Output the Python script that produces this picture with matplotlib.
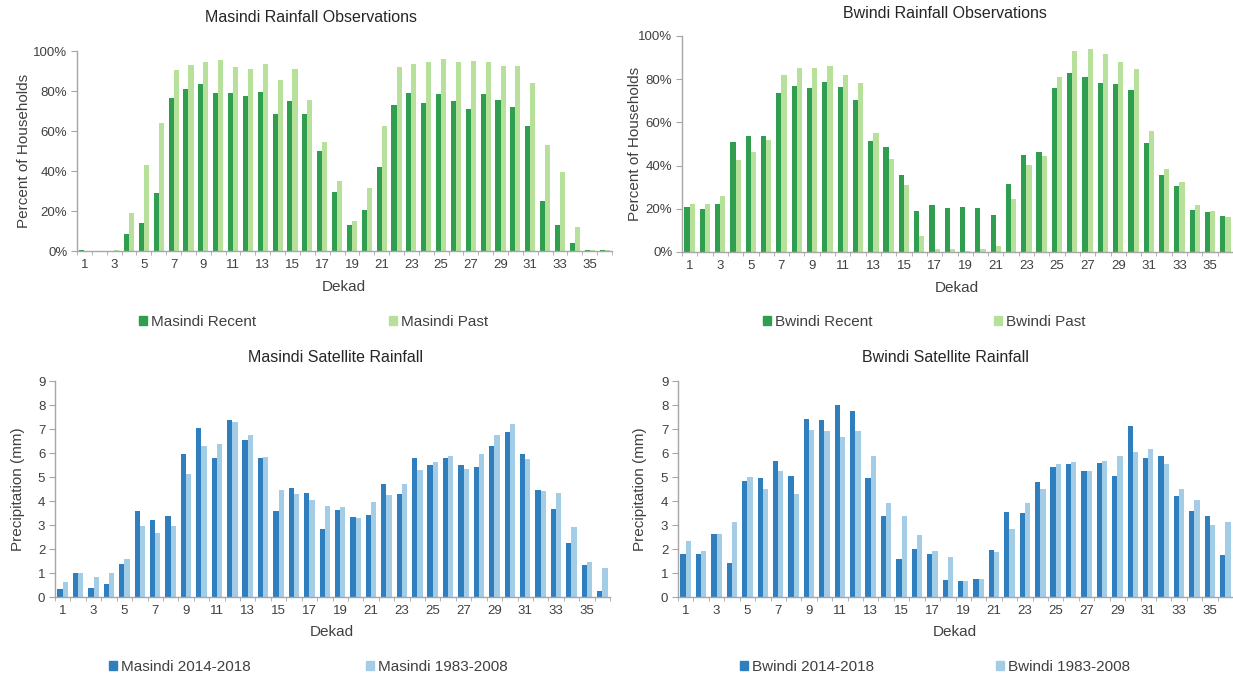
import numpy as np
import matplotlib.pyplot as plt
from matplotlib.patches import Patch
from matplotlib.ticker import FixedLocator

plt.rcParams['font.family'] = ['Liberation Sans', 'DejaVu Sans']

W, H = 1233, 679

dekads = np.arange(1, 37)
odd_ticks = np.arange(1, 37, 2)

# household observations, percent
masindi_recent = [0.4, 0, 0, 8.5, 14, 29.2, 76.6, 80.8, 83.3, 78.8, 78.8, 77.3,
                  79.5, 68.6, 74.8, 68.3, 49.9, 29.7, 13, 20.7, 41.9, 72.8, 78.8, 73.8,
                  78.3, 75.1, 71.1, 78.3, 75.6, 72.1, 62.6, 25.2, 13, 4, 0.3, 0.3]
masindi_past = [0, 0, 0.6, 19.2, 42.9, 63.9, 90.3, 93, 94.5, 95.3, 91.8, 91.2,
                93.5, 85.6, 91.2, 75.6, 54.4, 35.2, 14.9, 31.7, 62.4, 91.8, 93.3, 94.3,
                95.8, 94.3, 95, 94.3, 92.3, 92.3, 83.8, 52.9, 39.4, 11.9, 0.5, 0.5]
bwindi_recent = [20.9, 19.9, 22.1, 51, 53.6, 53.8, 73.4, 77, 76, 78.8, 76.2, 70.2,
                 51.2, 48.8, 35.7, 19, 21.8, 20.6, 21, 20.6, 17.3, 31.7, 44.7, 46.2,
                 75.7, 83, 80.8, 78.4, 77.6, 75, 50.4, 35.7, 30.4, 19.3, 18.4, 16.8]
bwindi_past = [22.1, 22.1, 26.1, 42.8, 46.2, 51.8, 81.9, 85, 85, 86.2, 81.9, 78.2,
               55.2, 43.1, 30.8, 7.4, 1.2, 1.2, 0.6, 1.2, 2.8, 24.4, 40.2, 44.5,
               81, 92.9, 94, 91.8, 88.1, 84.9, 56, 38.3, 32.5, 21.9, 19.1, 16.2]

# satellite rainfall, mm
masindi_2014 = [0.32, 0.99, 0.36, 0.53, 1.36, 3.58, 3.22, 3.38, 5.97, 7.06, 5.79, 7.36,
                6.54, 5.79, 3.58, 4.54, 4.32, 2.85, 3.61, 3.35, 3.42, 4.72, 4.28, 5.78,
                5.51, 5.81, 5.49, 5.42, 6.29, 6.89, 5.94, 4.44, 3.67, 2.24, 1.35, 0.24]
masindi_1983 = [0.61, 0.99, 0.85, 1.01, 1.57, 2.96, 2.68, 2.97, 5.13, 6.28, 6.36, 7.31,
                6.76, 5.85, 4.47, 4.29, 4.04, 3.78, 3.76, 3.28, 3.94, 4.26, 4.69, 5.28,
                5.61, 5.86, 5.35, 5.97, 6.74, 7.22, 5.74, 4.42, 4.33, 2.9, 1.44, 1.21]
bwindi_2014 = [1.79, 1.79, 2.64, 1.43, 4.82, 4.96, 5.65, 5.03, 7.42, 7.36, 7.99, 7.75,
               4.96, 3.39, 1.6, 1.99, 1.81, 0.72, 0.67, 0.75, 1.97, 3.53, 3.51, 4.81,
               5.42, 5.53, 5.26, 5.58, 5.03, 7.14, 5.78, 5.89, 4.22, 3.58, 3.36, 1.75]
bwindi_1983 = [2.35, 1.93, 2.61, 3.11, 4.99, 4.51, 5.25, 4.29, 6.97, 6.9, 6.67, 6.9,
               5.89, 3.93, 3.36, 2.58, 1.9, 1.65, 0.67, 0.75, 1.86, 2.85, 3.92, 4.51,
               5.54, 5.64, 5.26, 5.68, 5.89, 6.04, 6.15, 5.53, 4.49, 4.03, 2.99, 3.14]

pct_ticks = [0, 20, 40, 60, 80, 100]
pct_labels = ['0%', '20%', '40%', '60%', '80%', '100%']
mm_ticks = list(range(10))

DARK_GREEN = '#2f9e4f'
LIGHT_GREEN = '#b7e19a'
DARK_BLUE = '#2f7fbf'
LIGHT_BLUE = '#a3cde6'
AXIS_GREY = '#a6a6a6'
TEXT = '#404040'


def px_rect(left, top, right, bottom):
    return [left / W, 1 - bottom / H, (right - left) / W, (bottom - top) / H]


def draw_panel(fig, box, dark, light, c_dark, c_light, ymax, yticks, ylabels):
    ax = fig.add_axes(px_rect(*box))
    w = 0.34
    ax.bar(dekads - w / 2, dark, w, color=c_dark, linewidth=0)
    ax.bar(dekads + w / 2, light, w, color=c_light, linewidth=0)
    ax.set_xlim(0.5, 36.5)
    ax.set_ylim(0, ymax)
    for s in ['top', 'right']:
        ax.spines[s].set_visible(False)
    for s in ['left', 'bottom']:
        ax.spines[s].set_color(AXIS_GREY)
        ax.spines[s].set_linewidth(1)
    ax.set_yticks(yticks)
    ax.set_yticklabels(ylabels)
    ax.set_xticks(odd_ticks)
    ax.xaxis.set_minor_locator(FixedLocator(np.arange(0.5, 37, 1)))
    ax.tick_params(axis='x', which='major', length=0, pad=6, labelsize=9.5,
                   labelcolor=TEXT)
    ax.tick_params(axis='x', which='minor', length=3, color=AXIS_GREY,
                   direction='out')
    ax.tick_params(axis='y', length=4, color=AXIS_GREY, pad=3, labelsize=9.5,
                   labelcolor=TEXT)
    return ax


def legend_entry(fig, x, y, label, color):
    fig.legend(handles=[Patch(color=color)], labels=[label], loc='center left',
               bbox_to_anchor=(x / W, 1 - y / H), frameon=False, borderpad=0,
               borderaxespad=0, handlelength=0.55, handleheight=0.55,
               handletextpad=0.25, fontsize=11, labelcolor=TEXT)


def fig_text(x, y, s, **kw):
    fig.text(x / W, 1 - y / H, s, ha='center', va='center', **kw)


fig = plt.figure(figsize=(W / 100, H / 100), dpi=100)

panels = [
    ((77, 51, 612, 251), masindi_recent, masindi_past, DARK_GREEN, LIGHT_GREEN,
     100, pct_ticks, pct_labels),
    ((682, 36, 1233, 252), bwindi_recent, bwindi_past, DARK_GREEN, LIGHT_GREEN,
     100, pct_ticks, pct_labels),
    ((55, 381, 610, 597), masindi_2014, masindi_1983, DARK_BLUE, LIGHT_BLUE,
     9, mm_ticks, [str(t) for t in mm_ticks]),
    ((678, 381, 1233, 597), bwindi_2014, bwindi_1983, DARK_BLUE, LIGHT_BLUE,
     9, mm_ticks, [str(t) for t in mm_ticks]),
]
for p in panels:
    draw_panel(fig, *p)

# titles
fig_text(311, 18, 'Masindi Rainfall Observations', fontsize=11.5, color='#262626')
fig_text(945, 14, 'Bwindi Rainfall Observations', fontsize=11.5, color='#262626')
fig_text(335, 357, 'Masindi Satellite Rainfall', fontsize=11.5, color='#262626')
fig_text(945, 357, 'Bwindi Satellite Rainfall', fontsize=11.5, color='#262626')

# axis labels
fig_text(24, 151, 'Percent of Households', rotation=90, fontsize=11, color=TEXT)
fig_text(635, 144, 'Percent of Households', rotation=90, fontsize=11, color=TEXT)
fig_text(18, 489, 'Precipitation (mm)', rotation=90, fontsize=11, color=TEXT)
fig_text(640, 489, 'Precipitation (mm)', rotation=90, fontsize=11, color=TEXT)
fig_text(344, 287, 'Dekad', fontsize=11, color=TEXT)
fig_text(957, 288, 'Dekad', fontsize=11, color=TEXT)
fig_text(332, 632, 'Dekad', fontsize=11, color=TEXT)
fig_text(955, 632, 'Dekad', fontsize=11, color=TEXT)

# legends
legend_entry(fig, 139, 322, 'Masindi Recent', DARK_GREEN)
legend_entry(fig, 389, 322, 'Masindi Past', LIGHT_GREEN)
legend_entry(fig, 763, 322, 'Bwindi Recent', DARK_GREEN)
legend_entry(fig, 994, 322, 'Bwindi Past', LIGHT_GREEN)
legend_entry(fig, 109, 667, 'Masindi 2014-2018', DARK_BLUE)
legend_entry(fig, 366, 667, 'Masindi 1983-2008', LIGHT_BLUE)
legend_entry(fig, 740, 667, 'Bwindi 2014-2018', DARK_BLUE)
legend_entry(fig, 996, 667, 'Bwindi 1983-2008', LIGHT_BLUE)

fig.savefig('out.png', dpi=100)
